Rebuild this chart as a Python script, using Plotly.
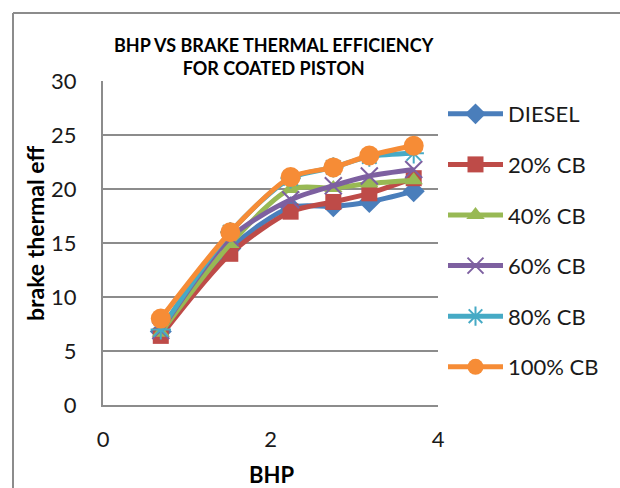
import plotly.graph_objects as go

# ---- data ----
bhp = [0.69, 1.52, 2.24, 2.75, 3.18, 3.71]
series_names = ["DIESEL", "20% CB", "40% CB", "60% CB", "80% CB", "100% CB"]
diesel = [6.8, 14.5, 18.3, 18.4, 18.8, 19.8]
cb20 = [6.4, 14.0, 17.9, 18.8, 19.6, 21.0]
cb40 = [6.7, 14.9, 20.0, 20.1, 20.5, 20.8]
cb60 = [6.9, 15.5, 19.0, 20.3, 21.2, 21.8]
cb80 = [7.0, 16.0, 21.0, 22.0, 23.0, 23.3]
cb100 = [8.0, 16.0, 21.1, 22.0, 23.1, 24.0]
x_ticks = [0, 2, 4]
y_ticks = [0, 5, 10, 15, 20, 25, 30]

values = [diesel, cb20, cb40, cb60, cb80, cb100]
colors = ["#4A7EBB", "#BE4B48", "#98B954", "#7D60A0", "#46AAC5", "#F68C36"]
symbols = ["diamond", "square", "triangle-up", "x-thin-open", "asterisk-open", "circle"]
sizes = [17, 16, 16, 17, 17, 20]

FONT = "Lato"

fig = go.Figure()
for i, (name, vals) in enumerate(zip(series_names, values)):
    open_sym = symbols[i].endswith("open")
    fig.add_trace(go.Scatter(
        x=bhp, y=vals, name=name, mode="lines+markers",
        line=dict(color=colors[i], width=5, shape="spline", smoothing=0.8),
        marker=dict(symbol=symbols[i], size=sizes[i], color=colors[i],
                    line=dict(color=colors[i], width=2 if open_sym else 0)),
        legendgroup=name,
    ))

# plot-area geometry in px (for decorations only)
L, R, T, B = 103, 438, 81, 405
W, H = 620, 488
pw, ph = R - L, B - T

def px_x(p):
    return (p - L) / pw

def px_y(p):
    return (B - p) / ph

fig.update_layout(
    width=W, height=H,
    margin=dict(l=L, r=W - R, t=T, b=H - B),
    paper_bgcolor="white", plot_bgcolor="white",
    font=dict(family=FONT, color="#1a1a1a", size=22),
    showlegend=True,
    legend=dict(
        x=px_x(443), y=px_y(93), xanchor="left", yanchor="top",
        font=dict(family=FONT, size=22, color="#1a1a1a"),
        tracegroupgap=19, itemwidth=55, bgcolor="rgba(0,0,0,0)",
    ),
    xaxis=dict(range=[0, 4], tickvals=x_ticks, showgrid=False, zeroline=False,
               showline=True, linecolor="#8c8c8c", linewidth=2, ticks="",
               tickfont=dict(family=FONT, size=22), ticklabelstandoff=14),
    yaxis=dict(range=[0, 30], tickvals=y_ticks, showgrid=True, gridcolor="#8c8c8c",
               gridwidth=2, zeroline=False, showline=True, linecolor="#8c8c8c",
               linewidth=2, ticks="", tickfont=dict(family=FONT, size=22),
               ticklabelstandoff=20),
    annotations=[
        dict(text="<b>BHP VS BRAKE THERMAL EFFICIENCY<br>FOR COATED PISTON</b>",
             xref="paper", yref="paper", x=px_x(274), y=px_y(56),
             xanchor="center", yanchor="middle", showarrow=False,
             font=dict(family=FONT, size=18, color="#000000")),
        dict(text="<b>brake thermal eff</b>", textangle=-90,
             xref="paper", yref="paper", x=px_x(35), y=px_y(234),
             xanchor="center", yanchor="middle", showarrow=False,
             font=dict(family=FONT, size=23, color="#000000")),
        dict(text="<b>BHP</b>",
             xref="paper", yref="paper", x=px_x(271), y=px_y(474),
             xanchor="center", yanchor="middle", showarrow=False,
             font=dict(family=FONT, size=22, color="#000000")),
    ],
    shapes=[
        dict(type="line", xref="paper", yref="paper", x0=px_x(13), x1=px_x(630),
             y0=px_y(13), y1=px_y(13), line=dict(color="#8c8c8c", width=2)),
        dict(type="line", xref="paper", yref="paper", x0=px_x(13), x1=px_x(13),
             y0=px_y(13), y1=px_y(500), line=dict(color="#8c8c8c", width=2)),
    ],
)

fig.write_html("out.html")
